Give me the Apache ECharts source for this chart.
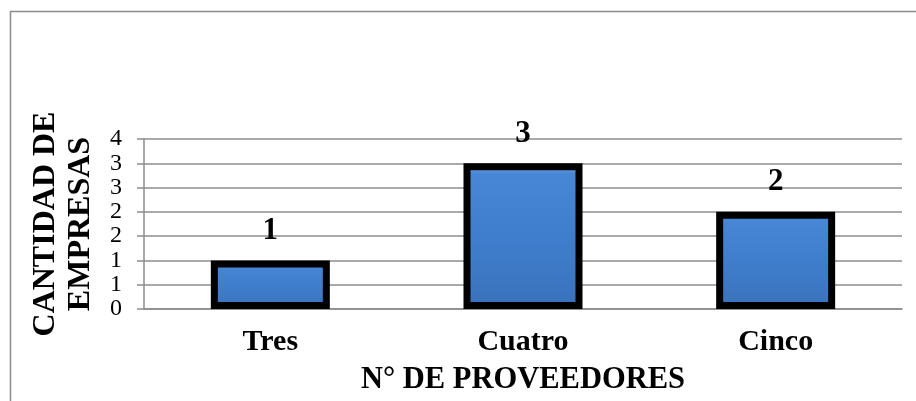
<!DOCTYPE html>
<html>
<head>
<meta charset="utf-8">
<script src="https://cdn.jsdelivr.net/npm/echarts@6/dist/echarts.min.js"></script>
<style>
html,body{margin:0;padding:0;background:#fff;}
#chart{width:916px;height:401px;}
</style>
</head>
<body>
<div id="chart"></div>
<script>
const categories = ['Tres', 'Cuatro', 'Cinco'];
const values = [1, 3, 2];
const yMin = 0, yMax = 3.5, yInterval = 0.5;
const xAxisTitle = 'N° DE PROVEEDORES';
const yAxisTitle = 'CANTIDAD DE\nEMPRESAS';

const FONT = '"Liberation Serif", "Times New Roman", serif';
const chart = echarts.init(document.getElementById('chart'), null, {renderer: 'canvas'});
chart.setOption({
  backgroundColor: '#fff',
  animation: false,
  graphic: [{
    type: 'rect', left: 8, top: 9,
    shape: {x: 0, y: 0, width: 930, height: 420},
    style: {fill: 'none', stroke: '#8c8c8c', lineWidth: 1.5},
    silent: true
  }],
  grid: {left: 144, right: 14, top: 139, bottom: 92},
  xAxis: {
    type: 'category',
    data: categories,
    axisLine: {lineStyle: {color: '#8c8c8c', width: 1.5}},
    axisTick: {show: false},
    axisLabel: {fontFamily: FONT, fontWeight: 'bold', fontSize: 30, color: '#000', margin: 18},
    name: xAxisTitle,
    nameLocation: 'middle',
    nameGap: 56,
    nameTextStyle: {fontFamily: FONT, fontWeight: 'bold', fontSize: 30.5, color: '#000'}
  },
  yAxis: {
    type: 'value',
    min: yMin, max: yMax, interval: yInterval,
    axisLine: {show: true, lineStyle: {color: '#8c8c8c', width: 1.5}},
    axisTick: {show: true, length: 7, lineStyle: {color: '#8c8c8c', width: 1.5}},
    splitLine: {lineStyle: {color: '#8c8c8c', width: 1.5}},
    axisLabel: {fontFamily: FONT, fontSize: 24, color: '#000', margin: 22,
      formatter: v => String(Math.round(v))},
    name: yAxisTitle,
    nameLocation: 'middle',
    nameRotate: 90,
    nameGap: 46,
    nameTextStyle: {fontFamily: FONT, fontWeight: 'bold', fontSize: 32, lineHeight: 35, color: '#000'}
  },
  series: [{
    type: 'bar',
    data: values,
    barWidth: 119,
    itemStyle: {
      color: new echarts.graphic.LinearGradient(0, 0, 0, 1, [
        {offset: 0, color: '#7db3ee'},
        {offset: 0.07, color: '#4887d6'},
        {offset: 0.5, color: '#3f7ecd'},
        {offset: 1, color: '#3a72bb'}
      ]),
      borderColor: '#000',
      borderWidth: 7
    },
    label: {
      show: true, position: 'top', distance: 14,
      fontFamily: FONT, fontWeight: 'bold', fontSize: 31, color: '#000'
    }
  }]
});
</script>
</body>
</html>
